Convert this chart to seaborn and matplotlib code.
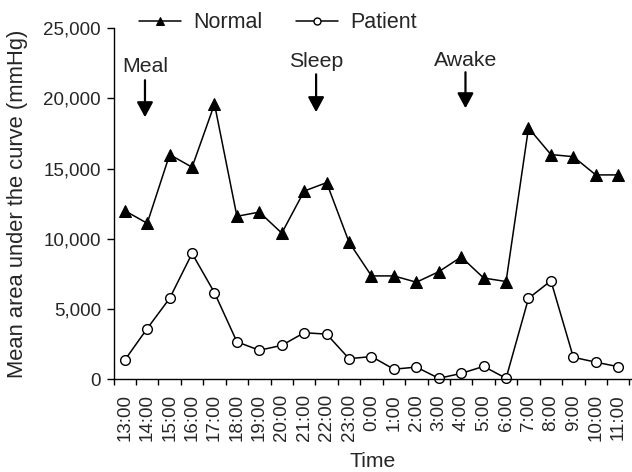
import numpy as np
import pandas as pd
import seaborn as sns
import matplotlib.pyplot as plt
from matplotlib.ticker import FuncFormatter, FixedLocator

# Data
times = ["13:00", "14:00", "15:00", "16:00", "17:00", "18:00", "19:00", "20:00",
         "21:00", "22:00", "23:00", "0:00", "1:00", "2:00", "3:00", "4:00",
         "5:00", "6:00", "7:00", "8:00", "9:00", "10:00", "11:00"]
normal = [12000, 11100, 16000, 15100, 19600, 11600, 11900, 10400, 13400, 14000,
          9750, 7350, 7350, 6900, 7650, 8700, 7200, 6950, 17900, 16000, 15850,
          14550, 14550]
patient = [1350, 3600, 5750, 8950, 6150, 2650, 2050, 2400, 3300, 3200, 1450,
           1600, 700, 850, 50, 400, 900, 50, 5750, 7000, 1550, 1200, 880]
events = ["Meal", "Sleep", "Awake"]
event_pos = [0.9, 8.53, 15.19]
event_text_y = [21870, 22220, 22290]
event_tail_y = [21300, 21720, 21870]
event_tip_y = [18660, 19020, 19300]

df = pd.DataFrame({"pos": np.arange(len(times)), "Normal": normal, "Patient": patient})

sns.set_style("ticks")
plt.rcParams['font.family'] = ['Liberation Sans', 'DejaVu Sans']

fig = plt.figure(figsize=(6.32, 4.72), dpi=100)
ax = fig.add_axes([0.1797, 0.197, 0.8187, 0.743])

sns.lineplot(data=df, x="pos", y="Normal", ax=ax, color="black", linewidth=1.1,
             marker="^", markersize=8.5, markerfacecolor="black",
             markeredgecolor="black", label="Normal", clip_on=False)
sns.lineplot(data=df, x="pos", y="Patient", ax=ax, color="black", linewidth=1.1,
             marker="o", markersize=7, markerfacecolor="white",
             markeredgecolor="black", markeredgewidth=1, label="Patient",
             clip_on=False)

ax.set_xlim(-0.5, 22.57)
ax.set_ylim(0, 25000)
ax.set_yticks(range(0, 25001, 5000))
ax.yaxis.set_major_formatter(FuncFormatter(lambda v, p: f"{int(v):,}"))

ax.set_xticks(np.arange(len(times)))
ax.set_xticklabels(times, rotation=90)
ax.xaxis.set_minor_locator(FixedLocator(np.arange(-0.5, len(times), 1.0)))
ax.tick_params(axis="x", which="major", length=0, labelsize=13.5, pad=10.8)
ax.tick_params(axis="x", which="minor", length=4.5, width=1, color="black")
ax.tick_params(axis="y", length=5, width=1, color="black", labelsize=13.5, pad=4)

ax.set_xlabel("Time", fontsize=15.2, va="baseline")
ax.xaxis.set_label_coords(0.5, -0.252)
ax.set_ylabel("Mean area under the curve (mmHg)", fontsize=15.8)
ax.yaxis.set_label_coords(-0.166, 0.5)

sns.despine(ax=ax)
for s in ["left", "bottom"]:
    ax.spines[s].set_color("black")
    ax.spines[s].set_linewidth(1)

for name, xp, ty, tail, tip in zip(events, event_pos, event_text_y, event_tail_y, event_tip_y):
    ax.annotate("", xy=(xp, tip), xytext=(xp, tail),
                arrowprops=dict(arrowstyle="-|>,head_length=0.65,head_width=0.35",
                                color="black", lw=1.6, mutation_scale=14,
                                shrinkA=0, shrinkB=0))
    ax.text(xp, ty, name, ha="center", va="baseline", fontsize=15.3)

ax.legend(loc="center left", bbox_to_anchor=(139 / 632, 1 - 23 / 472),
          bbox_transform=fig.transFigure, ncol=2, frameon=False,
          fontsize=15.5, handlelength=1.95, columnspacing=1.58, handletextpad=0.56,
          borderaxespad=0, borderpad=0, markerscale=0.72)

fig.savefig("out.png", dpi=100)
